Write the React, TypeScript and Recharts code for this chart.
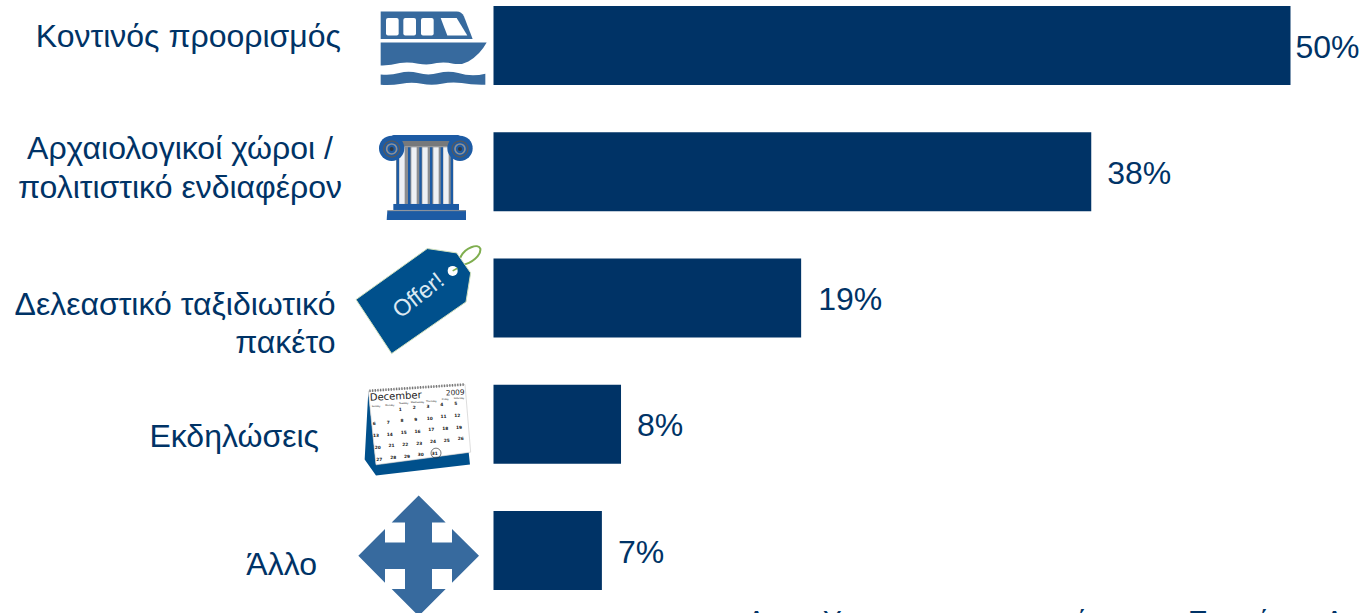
import React from "react";
import { BarChart, Bar, XAxis, YAxis, LabelList, Cell } from "recharts";

const categories = ["Κοντινός προορισμός", "Αρχαιολογικοί χώροι / πολιτιστικό ενδιαφέρον", "Δελεαστικό ταξιδιωτικό πακέτο", "Εκδηλώσεις", "Άλλο"];
const values = [50, 37.5, 19.3, 8, 6.8];
const labelLines = [["Κοντινός προορισμός"], ["Αρχαιολογικοί χώροι /", "πολιτιστικό ενδιαφέρον"], ["Δελεαστικό ταξιδιωτικό", "πακέτο"], ["Εκδηλώσεις"], ["Άλλο"]];
const footnote = ["Α", "Υ", "ί", "Π", "ί", "Α"];
const footnoteX = [747, 823, 1078, 1188, 1260, 1325];
const data = categories.map((name, i) => ({ name, value: values[i] }));

const FONT = "'Liberation Sans', Arial, sans-serif";
const NAVY = "#003366";
const BLUE = "#376a9e";
const labelLayout = [
  { anchor: "end", x: 341, dy: [2] },
  { anchor: "middle", x: 180, dy: [-12, 27] },
  { anchor: "end", x: 335.5, dy: [17, 55] },
  { anchor: "end", x: 319, dy: [23] },
  { anchor: "end", x: 317, dy: [25] },
];
const labelGap = [5, 16, 17, 16, 16];

const Boat = () => (
  <g fill={BLUE}>
    <path d="M122 35H350Q365 35 372 50L398 118H122Z" />
    {[138, 190, 243].map((x) => <rect key={x} x={x} y={55} width={38} height={52} rx={6} fill="#fff" />)}
    <path d="M302 55H350L382 107H322Z" fill="#fff" />
    <path d="M122 128H440Q420 165 385 185Q365 196 340 192Q315 186 290 190Q265 197 235 192Q205 186 180 190Q150 198 122 197Z" />
    <path d="M122 224Q150 228 178 220Q205 212 235 220Q265 228 295 220Q325 212 355 220Q395 232 436 222V255Q395 256 365 250Q335 246 305 252Q275 258 245 252Q215 246 185 252Q150 258 122 255Z" />
  </g>
);
const Column = () => (
  <g>
    <rect x={168} y={440} width={172} height={172} fill="#8b8d90" />
    {[178, 214, 247, 280, 310].map((x) => <rect key={x} x={x} y={442} width={16} height={170} fill="#eef1f5" />)}
    {[170, 204, 238, 270, 302, 332].map((x) => <rect key={x} x={x} y={442} width={7} height={170} fill="#1d5ba4" />)}
    <rect x={155} y={420} width={205} height={20} fill="#77797b" />
    <rect x={155} y={405} width={205} height={18} rx={6} fill="#1d5ba4" />
    {[155, 360].map((x) => (
      <g key={x}>
        <circle cx={x} cy={445} r={38} fill="#1d5ba4" />
        <circle cx={x} cy={447} r={24} fill="none" stroke="#55595e" strokeWidth={4} />
        <circle cx={x} cy={447} r={15} fill="none" stroke="#8d9197" strokeWidth={5} />
        <circle cx={x} cy={447} r={6} fill="#33373b" />
      </g>
    ))}
    <rect x={160} y={612} width={197} height={18} fill="#1d5ba4" />
    <path d="M142 632L378 630V660H140Z" fill="#1d5ba4" />
    <path d="M142 632H378" stroke="#8d9197" strokeWidth={3} />
  </g>
);
const Tag = () => (
  <g>
    <path d="M360 84C375 50 415 40 421 55C424 75 395 100 366 104" fill="none" stroke="#7fae4f" strokeWidth={6} />
    <path d="M262 55L350 68L392 128L378 215L155 370L48 208Z" fill="#00508c" stroke="#cfe0bd" strokeWidth={3} />
    <circle cx={338} cy={122} r={15} fill="#fff" />
    <path d="M338 122L352 114" stroke="#7fae4f" strokeWidth={5} />
    <text x={235} y={218} textAnchor="middle" fill="#dbe8f2" fontFamily={FONT} fontSize={70} transform="rotate(-38 235 195)">Offer!</text>
  </g>
);
const weekdays = ["Sunday", "Monday", "Tuesday", "Wednesday", "Thursday", "Friday", "Saturday"];
const calendarRows = [["", "", "1", "2", "3", "4", "5"], ["6", "7", "8", "9", "10", "11", "12"], ["13", "14", "15", "16", "17", "18", "19"], ["20", "21", "22", "23", "24", "25", "26"], ["27", "28", "29", "30", "31"]];
const Calendar = () => (
  <g fontFamily="'DejaVu Sans', sans-serif" fill="#222">
    <path d="M85 485L74 690L108 738L390 705L386 668L108 705Z" fill="#00508c" />
    <path d="M85 485L375 465L392 668L108 706Z" fill="#fff" stroke="#ccc" strokeWidth={2} />
    <path d="M88 484L374 465" stroke="#777" strokeWidth={8} strokeDasharray="4 4" fill="none" />
    <text x={90} y={514} fontSize={30} transform="rotate(-3 90 514)">December</text>
    <text x={318} y={498} fontSize={22} transform="rotate(-3 318 498)">2009</text>
    {weekdays.map((d, c) => (
      <text key={d} x={108 + c * 41.5} y={533 - c * 4.2} fontSize={7} textAnchor="middle">{d}</text>
    ))}
    {calendarRows.map((row, r) => row.map((d, c) => (
      <text key={r + "-" + c} x={103 + c * 41.5 + (r - 1) * 5} y={587 + (r - 1) * 35.5 - c * 4.2} fontSize={13} fontWeight={700} textAnchor="middle">{d}</text>
    )))}
    <circle cx={288} cy={671} r={15} fill="none" stroke="#333" strokeWidth={2} />
  </g>
);
const Arrows = () => (
  <path d="M236 47L317 128H276V188H336V148L417 228L336 309V268H276V328H317L236 409L155 328H195V268H135V309L55 228L135 148V188H195V128H155Z" fill={BLUE} />
);
const icons = [
  { Icon: Boat, oy: 0, cy: 45.5 },
  { Icon: Column, oy: 0, cy: 171.5 },
  { Icon: Tag, oy: 230, cy: 297.5 },
  { Icon: Calendar, oy: 230, cy: 424.5 },
  { Icon: Arrows, oy: 480, cy: 550.5 },
];

const CategoryTick = ({ y, index }: any) => {
  const layout = labelLayout[index];
  const { Icon, oy, cy } = icons[index];
  return (
    <g>
      {labelLines[index].map((line, i) => (
        <text key={line} x={layout.x} y={y + layout.dy[i]} textAnchor={layout.anchor as any} fontFamily={FONT} fontSize={32} fill={NAVY}>{line}</text>
      ))}
      <g transform={`translate(340 ${y - cy + oy}) scale(${1 / 3})`}>
        <Icon />
      </g>
    </g>
  );
};

const ValueLabel = ({ x, y, width, height, value, index }: any) => (
  <text x={x + width + labelGap[index]} y={y + height / 2 + 12} fontFamily={FONT} fontSize={32} fill={NAVY}>
    {Math.round(value)}%
  </text>
);

export default function App() {
  return (
    <div style={{ position: "absolute", left: 0, top: 0, width: 1362, height: 613, overflow: "hidden", background: "#fff" }}>
      <div style={{ position: "absolute", left: 0, top: -20 }}>
        <BarChart width={1362} height={660} data={data} layout="vertical" margin={{ top: 2.1, right: 71.5, bottom: 26.65, left: 0 }}>
          <XAxis type="number" domain={[0, 50]} hide />
          <YAxis type="category" dataKey="name" width={493.5} axisLine={false} tickLine={false} interval={0} tick={<CategoryTick />} />
          <Bar dataKey="value" fill="#003366" barSize={79} isAnimationActive={false}>
            {data.map((d) => <Cell key={d.name} fill="#003366" />)}
            <LabelList dataKey="value" content={<ValueLabel />} />
          </Bar>
          <g fontFamily={FONT} fontSize={28} fill={NAVY}>
            {footnote.map((t, i) => <text key={i} x={footnoteX[i]} y={650}>{t}</text>)}
          </g>
        </BarChart>
      </div>
    </div>
  );
}
